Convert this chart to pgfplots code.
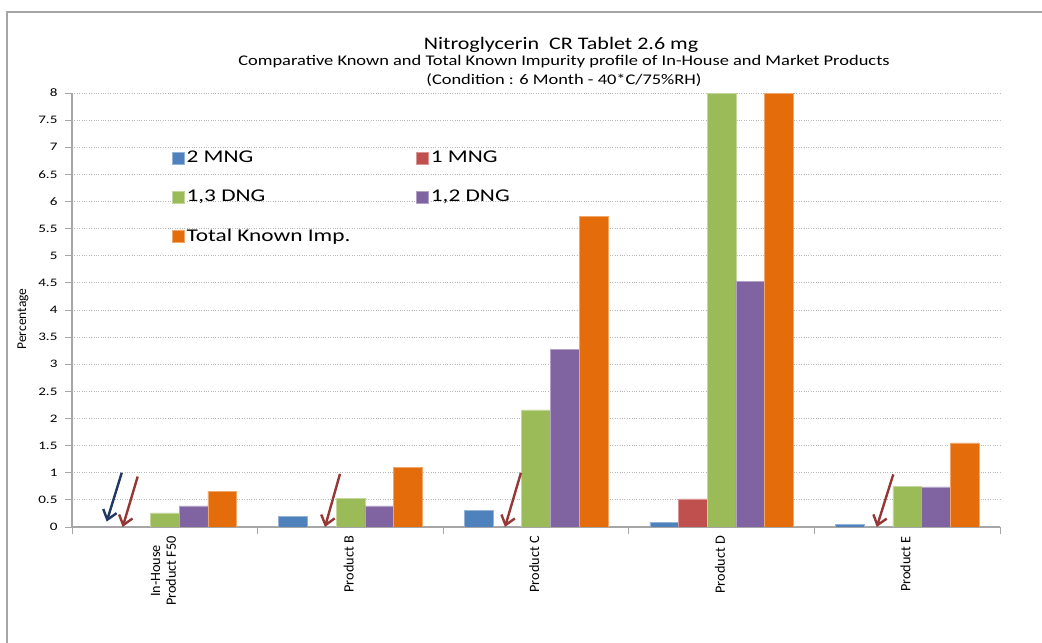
\documentclass[border=0pt]{standalone}
\usepackage{pgfplots}
\pgfplotsset{compat=1.18}
\usepackage{fontspec}
\setmainfont{Carlito}
\usetikzlibrary{arrows.meta}
\definecolor{cA}{HTML}{4F81BD}
\definecolor{cB}{HTML}{C0504D}
\definecolor{cC}{HTML}{9BBB59}
\definecolor{cD}{HTML}{8064A2}
\definecolor{cE}{HTML}{E46C0A}
\definecolor{axgray}{HTML}{A6A6A6}
\definecolor{gridgray}{HTML}{B8B8B8}
\definecolor{navy}{HTML}{1F3864}
\definecolor{darkred}{HTML}{953735}
\newcommand\hs[1]{\scalebox{1.25}[1]{#1}}
\newcommand\xl[1]{{\fontsize{14.3}{16}\selectfont\begin{tabular}{@{}c@{}}#1\end{tabular}}}
\begin{document}
\begin{tikzpicture}
\useasboundingbox (0,0) rectangle (1042bp,643bp);
\fill[white] (0,0) rectangle (1042bp,643bp);
\draw[axgray, line width=1.5bp] (7bp,0) -- (7bp,631bp) -- (1042bp,631bp);
\node[font=\fontsize{17.7}{20}\selectfont] at (561bp,598bp) {\hs{Nitroglycerin\ \ CR Tablet 2.6 mg}};
\node[font=\fontsize{14.8}{17}\selectfont] at (564bp,581bp) {\hs{Comparative Known and Total Known Impurity profile of In-House and Market Products}};
\node[font=\fontsize{14.8}{17}\selectfont] at (564bp,563bp) {\hs{(Condition : 6 Month - 40*C/75\%RH)}};
\begin{axis}[
  at={(72bp,116bp)}, anchor=south west,
  width=928bp, height=434bp, scale only axis,
  ybar=0pt, bar width=28.7bp,
  xmin=-0.5, xmax=4.5, ymin=0, ymax=8,
  axis x line*=bottom, axis y line*=left,
  axis line style={axgray, line width=1.3bp, -},
  xtick={0,1,2,3,4},
  xticklabels={\xl{In-House\\Product F50},\xl{Product B},\xl{Product C},\xl{Product D},\xl{Product E}},
  major x tick style={draw=none},
  minor xtick={-0.5,0.5,1.5,2.5,3.5,4.5},
  minor x tick style={axgray, line width=1bp},
  minor tick length=7bp,
  x tick label style={rotate=90, anchor=east, inner sep=2bp},
  ytick={0,0.5,...,8},
  y tick label style={/pgf/number format/fixed, /pgf/number format/assume math mode=true, xshift=-4bp},
  yticklabel={\fontsize{11.5}{14}\selectfont\scalebox{1.32}[1]{\pgfmathprintnumber{\tick}}},
  major y tick style={axgray, line width=1bp},
  major tick length=7bp,
  tick align=outside,
  ymajorgrids, grid style={gridgray, dotted, line width=0.8bp},
  ylabel={\fontsize{13.5}{15}\selectfont Percentage}, ylabel style={yshift=3bp, xshift=-9bp},
  clip=true,
  legend columns=2,
  legend style={at={(axis cs:-0.5,8)}, anchor=north west, xshift=97bp, yshift=-54bp, draw=none, fill=none,
    font=\fontsize{18}{21}\selectfont, row sep=22bp,
    /tikz/every even column/.append style={column sep=64bp}},
  legend cell align=left,
  legend image code/.code={\fill[#1] (0bp,-6bp) rectangle (12bp,6bp);},
]
\addplot[fill=cA, draw=cA!60!white, line width=0.4bp] coordinates {(0,0) (1,0.20) (2,0.31) (3,0.09) (4,0.05)};
\addplot[fill=cB, draw=cB!60!white, line width=0.4bp] coordinates {(0,0) (1,0) (2,0) (3,0.52) (4,0)};
\addplot[fill=cC, draw=cC!60!white, line width=0.4bp] coordinates {(0,0.26) (1,0.53) (2,2.16) (3,8.0) (4,0.75)};
\addplot[fill=cD, draw=cD!60!white, line width=0.4bp] coordinates {(0,0.39) (1,0.39) (2,3.28) (3,4.53) (4,0.74)};
\addplot[fill=cE, draw=cE!60!white, line width=0.4bp] coordinates {(0,0.66) (1,1.10) (2,5.73) (3,8.0) (4,1.55)};
\legend{\scalebox{1.3}[1]{2 MNG},\scalebox{1.3}[1]{1 MNG},\scalebox{1.3}[1]{1,3 DNG},\scalebox{1.3}[1]{1,2 DNG},\scalebox{1.3}[1]{Total Known Imp.}}
\draw[navy, line width=2.4bp, -{Straight Barb[length=9bp,width=14bp]}] (axis cs:-0.232,1.00) -- (axis cs:-0.313,0.10);
\draw[darkred, line width=2.4bp, -{Straight Barb[length=9bp,width=14bp]}] (axis cs:-0.146,0.93) -- (axis cs:-0.227,0.0);
\draw[darkred, line width=2.4bp, -{Straight Barb[length=9bp,width=14bp]}] (axis cs:0.944,0.98) -- (axis cs:0.863,0.0);
\draw[darkred, line width=2.4bp, -{Straight Barb[length=9bp,width=14bp]}] (axis cs:1.919,1.00) -- (axis cs:1.833,0.0);
\draw[darkred, line width=2.4bp, -{Straight Barb[length=9bp,width=14bp]}] (axis cs:3.925,0.97) -- (axis cs:3.836,0.0);
\end{axis}
\end{tikzpicture}
\end{document}
